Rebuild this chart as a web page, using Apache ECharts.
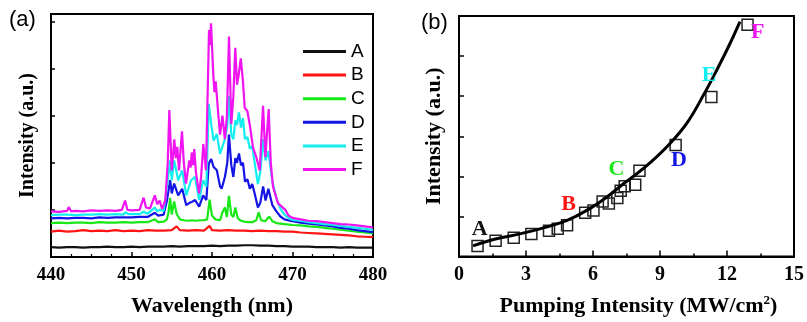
<!DOCTYPE html>
<html>
<head>
<meta charset="utf-8">
<script src="https://cdn.jsdelivr.net/npm/echarts@6/dist/echarts.min.js"></script>
<style>
  html, body { margin: 0; padding: 0; background: #fff; }
  #chart { width: 807px; height: 322px; }
</style>
</head>
<body>
<div id="chart"></div>
<script>
// (a) spectra, [wavelength nm, intensity a.u.]
const specA = [[440,0.21],[441,0.2],[442,0.21],[443,0.21],[444,0.2],[445,0.21],[446,0.21],[447,0.22],[448,0.21],[449,0.21],[450,0.22],[451,0.21],[452,0.22],[453,0.22],[454,0.22],[455,0.23],[456,0.22],[457,0.23],[458,0.23],[459,0.23],[460,0.24],[461,0.23],[462,0.24],[463,0.24],[464,0.25],[465,0.25],[466,0.24],[467,0.24],[468,0.23],[469,0.23],[470,0.22],[471,0.22],[472,0.22],[473,0.21],[474,0.21],[475,0.21],[476,0.2],[477,0.21],[478,0.2],[479,0.2],[480,0.2]]
const specB = [[440,0.54],[441,0.56],[442,0.54],[443,0.55],[444,0.57],[445,0.55],[446,0.56],[447,0.55],[448,0.57],[449,0.55],[450,0.56],[451,0.55],[452,0.57],[453,0.56],[454,0.56],[455,0.57],[455.6,0.65],[456,0.57],[457,0.56],[458,0.57],[459,0.56],[459.7,0.66],[460,0.57],[461,0.56],[462,0.57],[463,0.56],[464,0.56],[465,0.55],[466,0.56],[467,0.55],[468,0.55],[469,0.54],[470,0.54],[471,0.52],[472,0.51],[473,0.5],[474,0.49],[475,0.48],[476,0.47],[477,0.46],[478,0.44],[479,0.43],[480,0.42]]
const specC = [[440,0.72],[441,0.73],[442,0.72],[443,0.73],[444,0.73],[445,0.72],[446,0.74],[447,0.73],[448,0.73],[449,0.74],[450,0.73],[451,0.74],[452,0.74],[452.9,0.8],[453.3,0.74],[454,0.75],[454.4,0.8],[454.6,0.95],[454.8,1.25],[455,0.9],[455.3,1.18],[455.6,0.92],[456,0.8],[456.5,0.78],[457,0.77],[457.5,0.78],[458,0.77],[458.5,0.78],[459,0.78],[459.4,0.8],[459.7,1.22],[460,0.88],[460.4,0.8],[461,0.78],[461.3,0.95],[461.6,1.05],[461.85,0.85],[462.1,1.3],[462.4,0.9],[462.65,0.85],[462.9,1.05],[463.2,0.82],[463.6,0.77],[464,0.75],[464.5,0.74],[465,0.74],[465.5,0.78],[465.8,0.95],[466.1,0.78],[466.6,0.76],[467.1,0.86],[467.5,0.76],[468,0.72],[469,0.7],[470,0.68],[471,0.67],[472,0.65],[473,0.64],[474,0.62],[475,0.6],[476,0.58],[477,0.56],[478,0.54],[479,0.52],[480,0.5]]
const specD = [[440,0.82],[441,0.83],[442,0.82],[443,0.83],[444,0.83],[445,0.82],[446,0.84],[447,0.83],[448,0.84],[449,0.84],[450,0.84],[451,0.85],[452,0.85],[452.9,0.94],[453.3,0.88],[454,0.9],[454.4,1.2],[454.8,1.63],[455,1.35],[455.3,1.56],[455.8,1.31],[456.3,1.45],[456.8,1.1],[457.2,1.15],[457.5,1.17],[457.9,1.21],[458.4,1.07],[458.9,1.31],[459.3,1.21],[459.6,1.98],[459.9,2.08],[460.2,1.91],[460.6,1.84],[461,1.5],[461.2,1.45],[461.6,1.7],[461.9,2.0],[462.1,2.6],[462.4,1.95],[462.65,1.7],[462.9,2.1],[463.1,2.0],[463.35,2.2],[463.6,1.95],[463.85,2.0],[464.1,1.6],[464.4,1.65],[464.7,1.45],[465,1.55],[465.3,1.35],[465.7,1.05],[466,1.15],[466.35,1.5],[466.65,1.2],[467,1.45],[467.5,1.1],[468,0.97],[468.5,0.86],[469,0.8],[470,0.76],[471,0.73],[472,0.71],[473,0.69],[474,0.67],[475,0.65],[476,0.62],[477,0.6],[478,0.57],[479,0.55],[480,0.53]]
const specE = [[440,0.89],[441,0.9],[442,0.9],[443,0.89],[444,0.9],[445,0.9],[446,0.91],[447,0.9],[448,0.91],[449,0.9],[449.2,0.95],[449.6,0.91],[450,0.91],[451,0.91],[451.5,0.96],[452,0.92],[452.9,1.05],[453.2,0.97],[453.5,1.0],[454,0.98],[454.4,1.49],[454.8,2.05],[455,1.63],[455.3,2.05],[455.8,1.63],[456.3,1.84],[456.8,1.31],[457.4,1.63],[457.9,1.7],[458.4,1.21],[458.9,1.63],[459.3,1.49],[459.6,3.25],[459.9,2.82],[460.2,2.47],[460.6,2.61],[461,2.19],[461.6,2.5],[461.9,2.8],[462.1,3.42],[462.4,2.6],[462.65,2.5],[462.9,2.9],[463.1,2.8],[463.35,3.07],[463.6,2.75],[463.85,2.95],[464.1,2.5],[464.4,2.55],[464.7,2.3],[465,2.35],[465.3,2.0],[465.7,1.55],[466,1.8],[466.35,2.5],[466.65,2.05],[467,2.25],[467.5,1.6],[468,1.25],[468.5,1.02],[469,0.9],[469.5,0.83],[470,0.79],[471,0.77],[472,0.74],[473,0.72],[474,0.7],[475,0.68],[476,0.66],[477,0.64],[478,0.62],[479,0.6],[480,0.575]]
const specF = [[440,0.97],[441,0.96],[442,0.98],[442.2,1.06],[442.5,0.97],[443,0.98],[444,0.97],[445,0.99],[446,0.98],[447,0.99],[448,0.98],[448.8,1.0],[449.2,1.2],[449.5,1.0],[450,0.99],[451,1.0],[451.5,1.26],[451.8,1.05],[452.3,1.03],[452.9,1.31],[453.2,1.12],[453.5,1.2],[453.8,1.02],[454.2,1.2],[454.5,2.0],[454.7,3.12],[455,1.84],[455.32,2.5],[455.5,2.1],[455.69,2.34],[455.9,1.84],[456.27,2.67],[456.5,2.0],[456.77,1.56],[457.18,2.05],[457.35,1.9],[457.48,2.22],[457.65,1.95],[457.8,2.29],[458,1.8],[458.39,1.35],[458.65,1.7],[458.92,2.4],[459.25,1.84],[459.63,4.82],[459.75,4.5],[459.88,4.96],[460.16,3.87],[460.3,3.5],[460.46,3.73],[460.78,3.03],[461,2.6],[461.3,3.0],[461.6,2.5],[461.85,3.0],[462.11,4.68],[462.4,2.82],[462.65,3.4],[462.89,4.44],[463.11,3.66],[463.32,3.87],[463.57,4.22],[463.85,3.73],[464.06,3.17],[464.39,3.1],[464.68,2.82],[465.09,2.33],[465.5,2.12],[465.93,1.84],[466.34,3.21],[466.63,2.12],[467.04,3.14],[467.3,2.0],[467.58,1.49],[468.2,1.14],[468.6,1.08],[469.1,1.0],[469.5,0.88],[470,0.83],[471,0.8],[472,0.77],[473,0.76],[474,0.74],[475,0.72],[476,0.7],[477,0.69],[478,0.67],[479,0.65],[480,0.63]]

const seriesNames = ['A', 'B', 'C', 'D', 'E', 'F']
const seriesColors = ['#111111', '#ff1414', '#18e818', '#1414e6', '#14eeee', '#f014f0']

// (b) integrated intensity vs pump
const pumpX = [0.83, 1.64, 2.45, 3.24, 4.03, 4.42, 4.84, 5.65, 6.02, 6.43, 6.71, 7.09, 7.24, 7.42, 7.89, 8.08, 9.70, 11.30, 12.92]
const pumpY = [0.265, 0.39, 0.47, 0.56, 0.64, 0.69, 0.78, 1.09, 1.15, 1.37, 1.32, 1.46, 1.64, 1.75, 1.79, 2.14, 2.78, 3.98, 5.78]
const fitX = [0.63, 1.59, 2.77, 3.95, 4.84, 5.72, 6.61, 7.35, 7.86, 8.6, 9.48, 10.22, 10.96, 11.55, 12.14, 12.58]
const fitY = [0.265, 0.43, 0.57, 0.74, 0.90, 1.15, 1.48, 1.81, 2.02, 2.36, 2.84, 3.34, 4.04, 4.66, 5.32, 5.86]
const tagX = [0.93, 4.91, 7.05, 9.85, 11.2, 13.37]
const tagY = [0.69, 1.31, 2.18, 2.39, 4.52, 5.6]

const spectra = [specA, specB, specC, specD, specE, specF]
const serif = 'Liberation Serif'
const sans = 'Liberation Sans'

const chart = echarts.init(document.getElementById('chart'))

const baseAxis = {
  splitLine: { show: false },
  axisLine: { show: true, onZero: false, lineStyle: { color: '#000', width: 2 } }
}

chart.setOption({
  animation: false,
  backgroundColor: '#fff',
  graphic: [
    { type: 'text', left: 9, top: 9, style: { text: '(a)', font: '22px ' + sans, fill: '#000' } },
    { type: 'text', left: 421, top: 12, style: { text: '(b)', font: '22px ' + sans, fill: '#000' } }
  ],
  legend: {
    data: seriesNames,
    orient: 'vertical',
    left: 298,
    top: 37,
    icon: 'rect',
    itemWidth: 43,
    itemHeight: 3,
    itemGap: 4.6,
    selectedMode: false,
    textStyle: { fontFamily: sans, fontSize: 19, lineHeight: 19, color: '#000', padding: [0, 0, 0, 0] }
  },
  grid: [
    { left: 51, right: 434, top: 14, bottom: 63, show: true, borderColor: '#000', borderWidth: 2 },
    { left: 459, right: 9, top: 16, bottom: 64, show: true, borderColor: '#000', borderWidth: 2 }
  ],
  xAxis: [
    {
      ...baseAxis,
      type: 'value',
      gridIndex: 0,
      min: 440,
      max: 480,
      interval: 10,
      axisTick: { inside: true, length: 5, lineStyle: { color: '#000', width: 1.5 } },
      minorTick: { show: true, splitNumber: 4, length: 3, lineStyle: { color: '#000', width: 1.2 } },
      axisLabel: { margin: 9, fontFamily: serif, fontWeight: 'bold', fontSize: 19, color: '#000' },
      name: 'Wavelength (nm)',
      nameLocation: 'middle',
      nameGap: 38,
      nameTextStyle: { fontFamily: serif, fontWeight: 'bold', fontSize: 22, color: '#000' }
    },
    {
      ...baseAxis,
      type: 'value',
      gridIndex: 1,
      min: 0,
      max: 15,
      interval: 3,
      axisTick: { inside: true, length: 6, lineStyle: { color: '#000', width: 1.5 } },
      minorTick: { show: true, splitNumber: 2, length: 3, lineStyle: { color: '#000', width: 1.5 } },
      axisLabel: { margin: 8, fontFamily: serif, fontWeight: 'bold', fontSize: 20, color: '#000' },
      name: 'Pumping Intensity (MW/cm{sup|2})',
      nameLocation: 'middle',
      nameGap: 38,
      nameTextStyle: {
        fontFamily: serif, fontWeight: 'bold', fontSize: 22, color: '#000', padding: [0, 0, 0, 24],
        rich: { sup: { fontFamily: serif, fontWeight: 'bold', fontSize: 13, verticalAlign: 'top', padding: [0, 0, 10, 0], color: '#000' } }
      }
    }
  ],
  yAxis: [
    {
      ...baseAxis,
      type: 'value',
      gridIndex: 0,
      min: 0,
      max: 5.16,
      interval: 1,
      axisTick: { inside: true, length: 4, lineStyle: { color: '#000', width: 1.5 } },
      axisLabel: { show: false },
      name: 'Intensity (a.u.)',
      nameLocation: 'middle',
      nameRotate: 90,
      nameGap: 13,
      nameTextStyle: { fontFamily: serif, fontWeight: 'bold', fontSize: 20, color: '#000' }
    },
    {
      ...baseAxis,
      type: 'value',
      gridIndex: 1,
      min: 0,
      max: 6,
      interval: 1,
      axisTick: { inside: true, length: 5, lineStyle: { color: '#000', width: 1.5 } },
      axisLabel: { show: false },
      name: 'Intensity (a.u.)',
      nameLocation: 'middle',
      nameRotate: 90,
      nameGap: 14,
      nameTextStyle: { fontFamily: serif, fontWeight: 'bold', fontSize: 22, color: '#000' }
    }
  ],
  series: [
    ...spectra.map((d, i) => ({
      name: seriesNames[i],
      type: 'line',
      xAxisIndex: 0,
      yAxisIndex: 0,
      symbol: 'none',
      data: d,
      color: seriesColors[i],
      lineStyle: { color: seriesColors[i], width: 2.2 },
      z: 2 + i
    })),
    {
      name: 'points',
      type: 'scatter',
      xAxisIndex: 1,
      yAxisIndex: 1,
      symbol: 'rect',
      symbolSize: 11,
      data: pumpX.map((x, i) => [x, pumpY[i]]),
      itemStyle: { color: 'rgba(255,255,255,0)', borderColor: '#222', borderWidth: 1.5, opacity: 1 },
      z: 3
    },
    {
      name: 'fit',
      type: 'line',
      xAxisIndex: 1,
      yAxisIndex: 1,
      symbol: 'none',
      smooth: 0.4,
      data: fitX.map((x, i) => [x, fitY[i]]),
      lineStyle: { color: '#000', width: 3 },
      z: 4
    },
    {
      name: 'tags',
      type: 'scatter',
      xAxisIndex: 1,
      yAxisIndex: 1,
      symbolSize: 1,
      itemStyle: { color: 'rgba(0,0,0,0)', opacity: 1 },
      data: seriesNames.map((n, i) => ({
        value: [tagX[i], tagY[i]],
        name: n,
        label: { color: seriesColors[i] }
      })),
      label: {
        show: true,
        position: 'inside',
        formatter: p => p.name,
        fontFamily: serif,
        fontWeight: 'bold',
        fontSize: 22,
        opacity: 1
      },
      z: 5
    }
  ]
})
</script>
</body>
</html>
